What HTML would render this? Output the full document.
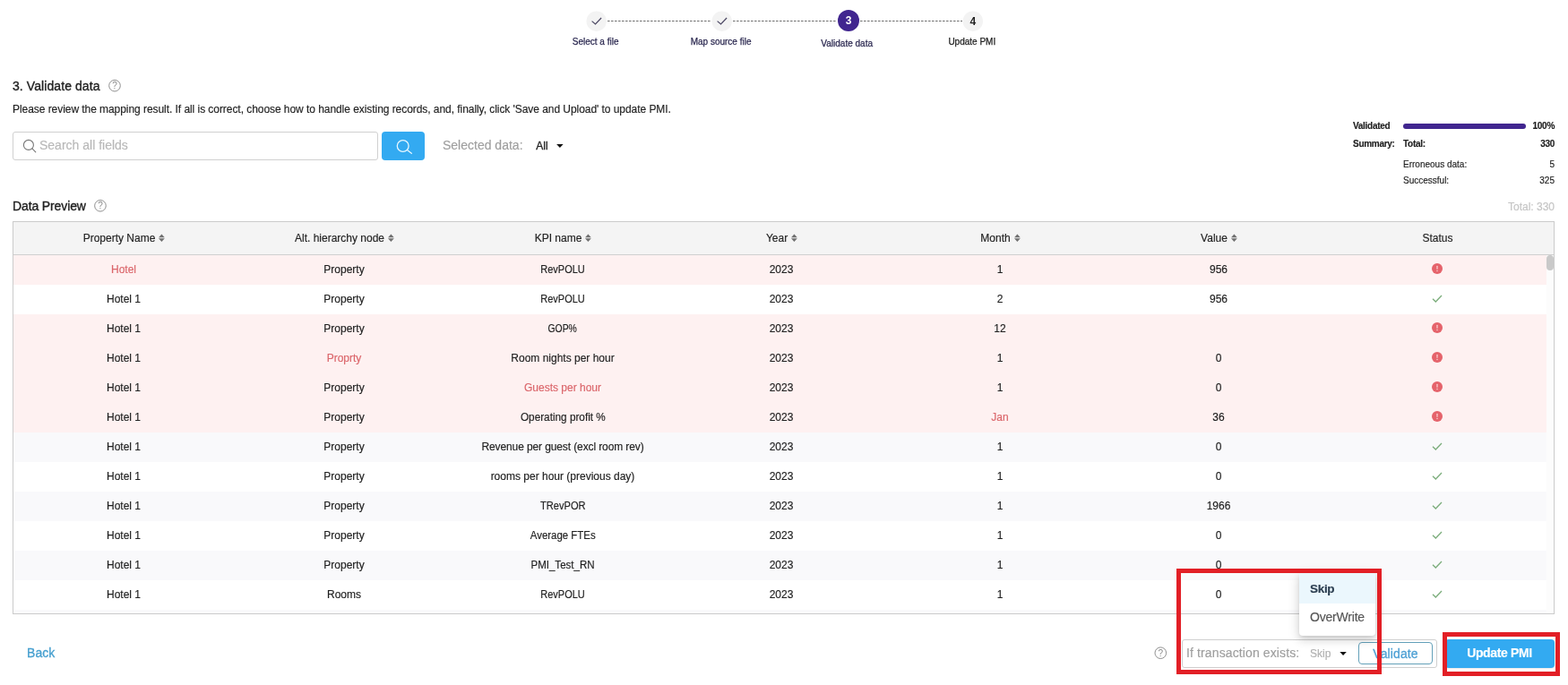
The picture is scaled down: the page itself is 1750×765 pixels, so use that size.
<!DOCTYPE html>
<html lang="en">
<head>
<meta charset="utf-8">
<title>Validate data</title>
<style>
*{box-sizing:border-box;margin:0;padding:0}
html,body{width:1750px;height:765px;overflow:hidden;background:#fff}
body{font-family:"Liberation Sans",sans-serif;color:#212121;position:relative;font-size:12px;-webkit-text-stroke-width:.15px}
.abs{position:absolute;white-space:nowrap}
/* stepper */
.step-l{position:absolute;font-size:10px;letter-spacing:0;color:#2b2850;-webkit-text-stroke:.25px #2b2850;white-space:nowrap;transform:translateX(-50%);line-height:12px}
/* table */
.tbl{position:absolute;left:14px;top:247px;width:1721px;height:439px;border:1px solid #cbcbcb;background:#fff;overflow:hidden}
.hd{position:absolute;left:0;top:0;width:1719px;height:37px;background:#f4f4f4;border-bottom:1px solid #cfcfcf}
.row{position:absolute;left:0;width:1711px;height:33px}
.row.err{background:#fef1f1}
.row.alt{background:#f9f9fb}
.c{position:absolute;top:0;height:33px;line-height:33px;width:244px;text-align:center;font-size:12px;color:#212121;white-space:nowrap}
.hd .c{height:36px;line-height:36px;padding-left:1px}
.red{color:#db666b}
.c1{left:1px}.c2{left:247px}.c3{left:491px}.c4{left:735px}.c5{left:979px}.c6{left:1223px}.c7{left:1467px}

.srt{vertical-align:middle;margin-left:3px;position:relative;top:-1px}
.st{vertical-align:middle;position:relative;top:-2px}
.sb{overflow:hidden;position:absolute;left:1711px;top:37px;width:8px;height:400px;background:#fcfcfc}
.sb i{position:absolute;left:0;top:0;width:8px;height:17px;border-radius:4px;background:#c9c9c9}
.sum{position:absolute;font-size:10px;line-height:12px;white-space:nowrap;color:#212121}
.sum.b{font-weight:bold;letter-spacing:-.28px}
.sum.r{right:15px;text-align:right}
.redbox{position:absolute;border:5px solid #e21f26}
.med{-webkit-text-stroke:.35px #212121}
.sx{display:inline-block;line-height:normal}
</style>
</head>
<body>
<!-- stepper -->
<svg class="abs" style="left:640px;top:0" width="470" height="40" viewBox="640 0 470 40">
<g stroke="#6f6f6f" stroke-width="1" stroke-dasharray="2.6 1.4" fill="none">
<path d="M678 23.5 H794"/><path d="M818 23.5 H934"/><path d="M960 23.5 H1074"/>
</g>
<circle cx="665.7" cy="23.7" r="11.2" fill="#f3f3f3"/>
<circle cx="805.7" cy="23.7" r="11.2" fill="#f3f3f3"/>
<circle cx="947" cy="23" r="12" fill="#41268f"/>
<circle cx="1085.8" cy="23.7" r="11.2" fill="#f3f3f3"/>
<path d="M660.6 23.6 L664.5 27 L671.1 20" fill="none" stroke="#4b4763" stroke-width="1.2"/>
<path d="M800.6 23.6 L804.5 27 L811.1 20" fill="none" stroke="#4b4763" stroke-width="1.2"/>
<text x="947" y="27.3" text-anchor="middle" font-family="Liberation Sans, sans-serif" font-weight="bold" font-size="12" fill="#fff">3</text>
<text x="1085.8" y="28" text-anchor="middle" font-family="Liberation Sans, sans-serif" font-weight="bold" font-size="12" fill="#212121">4</text>
</svg>
<div class="step-l" style="left:664.6px;top:41px">Select a file</div>
<div class="step-l" style="left:804.6px;top:41px">Map source file</div>
<div class="step-l" style="left:945.2px;top:43px">Validate data</div>
<div class="step-l" style="left:1084.8px;top:41px;color:#212121;-webkit-text-stroke-color:#212121">Update PMI</div>

<div class="abs med" style="left:14px;top:87px;font-size:14px;line-height:18px;letter-spacing:.08px">3. Validate data</div>
<div class="abs" style="left:14px;top:115px;font-size:12px;line-height:14px;letter-spacing:-.055px">Please review the mapping result. If all is correct, choose how to handle existing records, and, finally, click 'Save and Upload' to update PMI.</div>

<div class="abs" style="left:14px;top:147px;width:408px;height:32px;border:1px solid #d0d0d0;border-radius:3px"></div>
<div class="abs" style="left:44px;top:154px;font-size:14px;line-height:16px;color:#b8b8b8">Search all fields</div>
<div class="abs" style="left:426px;top:147px;width:48px;height:32px;background:#33aaf1;border-radius:4px"></div>
<div class="abs" style="left:494px;top:154px;font-size:14px;line-height:16px;color:#9e9e9e">Selected data<span>:</span></div>
<div class="abs" style="left:598.3px;top:156px;font-size:12px;line-height:14px;-webkit-text-stroke:.3px #212121">All</div>

<div class="abs med" style="left:14px;top:221px;font-size:14px;line-height:18px;letter-spacing:-.12px">Data Preview</div>
<div class="abs" style="right:15px;top:224px;font-size:12px;line-height:14px;color:#c4c4c4">Total: 330</div>

<div class="tbl">
<div class="hd">
<div class="c c1">Property Name<svg class="srt" width="8" height="12" viewBox="0 0 8 12"><path d="M4.4 1.5 L7.8 5.2 H1 Z M4.4 9.9 L7.8 6.2 H1 Z" fill="#707070"/></svg></div><div class="c c2">Alt. hierarchy node<svg class="srt" width="8" height="12" viewBox="0 0 8 12"><path d="M4.4 1.5 L7.8 5.2 H1 Z M4.4 9.9 L7.8 6.2 H1 Z" fill="#707070"/></svg></div><div class="c c3">KPI name<svg class="srt" width="8" height="12" viewBox="0 0 8 12"><path d="M4.4 1.5 L7.8 5.2 H1 Z M4.4 9.9 L7.8 6.2 H1 Z" fill="#707070"/></svg></div><div class="c c4">Year<svg class="srt" width="8" height="12" viewBox="0 0 8 12"><path d="M4.4 1.5 L7.8 5.2 H1 Z M4.4 9.9 L7.8 6.2 H1 Z" fill="#707070"/></svg></div><div class="c c5">Month<svg class="srt" width="8" height="12" viewBox="0 0 8 12"><path d="M4.4 1.5 L7.8 5.2 H1 Z M4.4 9.9 L7.8 6.2 H1 Z" fill="#707070"/></svg></div><div class="c c6">Value<svg class="srt" width="8" height="12" viewBox="0 0 8 12"><path d="M4.4 1.5 L7.8 5.2 H1 Z M4.4 9.9 L7.8 6.2 H1 Z" fill="#707070"/></svg></div><div class="c c7">Status</div>
</div>
<div class="row err" style="top:37px"><div class="c c1 red">Hotel</div><div class="c c2">Property</div><div class="c c3"><span class="sx" style="transform:scaleX(0.917)">RevPOLU</span></div><div class="c c4">2023</div><div class="c c5">1</div><div class="c c6">956</div><div class="c c7"><svg class="st" width="12" height="12" viewBox="0 0 12 12"><circle cx="6" cy="6" r="6" fill="#e5636b"/><rect x="5.4" y="2.8" width="1.2" height="4" rx=".4" fill="#fbd5d6"/><circle cx="6" cy="8.6" r=".75" fill="#fbd5d6"/></svg></div></div>
<div class="row" style="top:70px"><div class="c c1">Hotel 1</div><div class="c c2">Property</div><div class="c c3"><span class="sx" style="transform:scaleX(0.917)">RevPOLU</span></div><div class="c c4">2023</div><div class="c c5">2</div><div class="c c6">956</div><div class="c c7"><svg class="st" width="12" height="12" viewBox="0 0 12 12"><path d="M1 6.8 L4.3 10 L11 3" fill="none" stroke="#7bad7b" stroke-width="1.3"/></svg></div></div>
<div class="row err" style="top:103px"><div class="c c1">Hotel 1</div><div class="c c2">Property</div><div class="c c3"><span class="sx" style="transform:scaleX(0.865)">GOP%</span></div><div class="c c4">2023</div><div class="c c5">12</div><div class="c c6"></div><div class="c c7"><svg class="st" width="12" height="12" viewBox="0 0 12 12"><circle cx="6" cy="6" r="6" fill="#e5636b"/><rect x="5.4" y="2.8" width="1.2" height="4" rx=".4" fill="#fbd5d6"/><circle cx="6" cy="8.6" r=".75" fill="#fbd5d6"/></svg></div></div>
<div class="row err" style="top:136px"><div class="c c1">Hotel 1</div><div class="c c2 red">Proprty</div><div class="c c3">Room nights per hour</div><div class="c c4">2023</div><div class="c c5">1</div><div class="c c6">0</div><div class="c c7"><svg class="st" width="12" height="12" viewBox="0 0 12 12"><circle cx="6" cy="6" r="6" fill="#e5636b"/><rect x="5.4" y="2.8" width="1.2" height="4" rx=".4" fill="#fbd5d6"/><circle cx="6" cy="8.6" r=".75" fill="#fbd5d6"/></svg></div></div>
<div class="row err" style="top:169px"><div class="c c1">Hotel 1</div><div class="c c2">Property</div><div class="c c3 red">Guests per hour</div><div class="c c4">2023</div><div class="c c5">1</div><div class="c c6">0</div><div class="c c7"><svg class="st" width="12" height="12" viewBox="0 0 12 12"><circle cx="6" cy="6" r="6" fill="#e5636b"/><rect x="5.4" y="2.8" width="1.2" height="4" rx=".4" fill="#fbd5d6"/><circle cx="6" cy="8.6" r=".75" fill="#fbd5d6"/></svg></div></div>
<div class="row err" style="top:202px"><div class="c c1">Hotel 1</div><div class="c c2">Property</div><div class="c c3"><span class="sx" style="transform:scaleX(0.98)">Operating profit %</span></div><div class="c c4">2023</div><div class="c c5 red">Jan</div><div class="c c6">36</div><div class="c c7"><svg class="st" width="12" height="12" viewBox="0 0 12 12"><circle cx="6" cy="6" r="6" fill="#e5636b"/><rect x="5.4" y="2.8" width="1.2" height="4" rx=".4" fill="#fbd5d6"/><circle cx="6" cy="8.6" r=".75" fill="#fbd5d6"/></svg></div></div>
<div class="row alt" style="top:235px"><div class="c c1">Hotel 1</div><div class="c c2">Property</div><div class="c c3" style="letter-spacing:-.11px">Revenue per guest (excl room rev)</div><div class="c c4">2023</div><div class="c c5">1</div><div class="c c6">0</div><div class="c c7"><svg class="st" width="12" height="12" viewBox="0 0 12 12"><path d="M1 6.8 L4.3 10 L11 3" fill="none" stroke="#7bad7b" stroke-width="1.3"/></svg></div></div>
<div class="row" style="top:268px"><div class="c c1">Hotel 1</div><div class="c c2">Property</div><div class="c c3">rooms per hour (previous day)</div><div class="c c4">2023</div><div class="c c5">1</div><div class="c c6">0</div><div class="c c7"><svg class="st" width="12" height="12" viewBox="0 0 12 12"><path d="M1 6.8 L4.3 10 L11 3" fill="none" stroke="#7bad7b" stroke-width="1.3"/></svg></div></div>
<div class="row alt" style="top:301px"><div class="c c1">Hotel 1</div><div class="c c2">Property</div><div class="c c3"><span class="sx" style="transform:scaleX(0.925)">TRevPOR</span></div><div class="c c4">2023</div><div class="c c5">1</div><div class="c c6">1966</div><div class="c c7"><svg class="st" width="12" height="12" viewBox="0 0 12 12"><path d="M1 6.8 L4.3 10 L11 3" fill="none" stroke="#7bad7b" stroke-width="1.3"/></svg></div></div>
<div class="row" style="top:334px"><div class="c c1">Hotel 1</div><div class="c c2">Property</div><div class="c c3"><span class="sx" style="transform:scaleX(0.953)">Average FTEs</span></div><div class="c c4">2023</div><div class="c c5">1</div><div class="c c6">0</div><div class="c c7"><svg class="st" width="12" height="12" viewBox="0 0 12 12"><path d="M1 6.8 L4.3 10 L11 3" fill="none" stroke="#7bad7b" stroke-width="1.3"/></svg></div></div>
<div class="row alt" style="top:367px"><div class="c c1">Hotel 1</div><div class="c c2">Property</div><div class="c c3"><span class="sx" style="transform:scaleX(0.96)">PMI_Test_RN</span></div><div class="c c4">2023</div><div class="c c5">1</div><div class="c c6">0</div><div class="c c7"><svg class="st" width="12" height="12" viewBox="0 0 12 12"><path d="M1 6.8 L4.3 10 L11 3" fill="none" stroke="#7bad7b" stroke-width="1.3"/></svg></div></div>
<div class="row" style="top:400px"><div class="c c1">Hotel 1</div><div class="c c2">Rooms</div><div class="c c3"><span class="sx" style="transform:scaleX(0.917)">RevPOLU</span></div><div class="c c4">2023</div><div class="c c5">1</div><div class="c c6">0</div><div class="c c7"><svg class="st" width="12" height="12" viewBox="0 0 12 12"><path d="M1 6.8 L4.3 10 L11 3" fill="none" stroke="#7bad7b" stroke-width="1.3"/></svg></div></div>

<div class="row alt" style="top:433px"></div>
<div class="sb"><i></i></div>
</div>

<div class="abs" style="left:30px;top:721px;font-size:14px;line-height:16px;color:#459fcf;-webkit-text-stroke:.3px #459fcf;letter-spacing:.05px">Back</div>

<svg class="abs" style="left:119px;top:86px" width="18" height="18" viewBox="0 0 18 18"><circle cx="9.00" cy="9.70" r="6.3" fill="none" stroke="#8f8f8f" stroke-width="1"/><text x="9.00" y="13.20" font-family="Liberation Sans, sans-serif" font-size="10" text-anchor="middle" fill="#8c8c8c">?</text></svg>
<svg class="abs" style="left:102px;top:220px" width="18" height="18" viewBox="0 0 18 18"><circle cx="9.96" cy="9.80" r="6.3" fill="none" stroke="#8f8f8f" stroke-width="1"/><text x="9.96" y="13.30" font-family="Liberation Sans, sans-serif" font-size="10" text-anchor="middle" fill="#8c8c8c">?</text></svg>
<svg class="abs" style="left:1286px;top:720px" width="18" height="18" viewBox="0 0 18 18"><circle cx="9.30" cy="9.20" r="6.3" fill="none" stroke="#8f8f8f" stroke-width="1"/><text x="9.30" y="12.70" font-family="Liberation Sans, sans-serif" font-size="10" text-anchor="middle" fill="#8c8c8c">?</text></svg>
<!-- search icons -->
<svg class="abs" style="left:22px;top:152px" width="20" height="20" viewBox="22 152 20 20"><circle cx="31.9" cy="161.9" r="5.5" fill="none" stroke="#777" stroke-width="1.1"/><path d="M35.9 165.9 L39.8 169.8" stroke="#777" stroke-width="1.1" stroke-linecap="round"/></svg>
<svg class="abs" style="left:438px;top:152px" width="24" height="22" viewBox="438 152 24 22"><circle cx="449.7" cy="163" r="6.4" fill="none" stroke="#e8f7ff" stroke-width="1.3"/><path d="M454.4 167.6 L459.3 171.3" stroke="#e8f7ff" stroke-width="1.3" stroke-linecap="round"/></svg>
<svg class="abs" style="left:620px;top:158px" width="10" height="10" viewBox="620 158 10 10"><path d="M621.1 161 h7.5 l-3.75 4.1 Z" fill="#111"/></svg>

<!-- summary -->
<div class="sum b" style="left:1510px;top:135px">Validated</div>
<div class="abs" style="left:1566px;top:138px;width:137px;height:6px;border-radius:3px;background:#41268f"></div>
<div class="sum b r" style="top:135px">100%</div>
<div class="sum b" style="left:1510px;top:155px">Summary:</div>
<div class="sum b" style="left:1566px;top:155px">Total:</div>
<div class="sum b r" style="top:155px">330</div>
<div class="sum" style="left:1566px;top:178px">Erroneous data<span>:</span></div>
<div class="sum r" style="top:178px">5</div>
<div class="sum" style="left:1566px;top:196px">Successful:</div>
<div class="sum r" style="top:196px">325</div>

<!-- footer -->
<div class="abs" style="left:1319px;top:714px;width:285px;height:32px;border:1px solid #cfcfcf;border-radius:3px;background:#fff"></div>
<div class="abs" style="left:1324px;top:721px;font-size:14px;line-height:16px;color:#9e9e9e;letter-spacing:.12px">If transaction exists:</div>
<div class="abs" style="left:1462px;top:723px;font-size:12px;line-height:14px;color:#b0b0b0">Skip</div>
<svg class="abs" style="left:1494px;top:725px" width="10" height="10" viewBox="1494 725 10 10"><path d="M1495.3 727.9 h7.5 l-3.75 4.1 Z" fill="#111"/></svg>
<div class="abs" style="left:1516px;top:717px;width:83px;height:25px;border:1px solid #63a0b9;border-radius:4px;color:#4fa1d5;-webkit-text-stroke:.3px #4fa1d5;font-size:14px;line-height:25px;text-align:center;letter-spacing:.1px">Validate</div>
<div class="abs" style="left:1613px;top:714px;width:122px;height:32px;border-radius:4px;background:#33aaf1;color:#fff;font-weight:bold;font-size:14px;line-height:31px;text-align:center;letter-spacing:-.36px;padding-right:1px;box-shadow:0 1px 1px rgba(0,0,0,.08)">Update PMI</div>

<!-- dropdown popup -->
<div class="abs" style="left:1450px;top:640px;width:85px;height:70px;background:#fff;border-radius:4px;box-shadow:0 2px 4px -1px rgba(0,0,0,.12),0 5px 10px 1px rgba(0,0,0,.09),0 2px 14px 2px rgba(0,0,0,.08)">
<div style="height:34px;line-height:35px;padding-left:12px;background:#ebf7fd;font-weight:bold;font-size:13.5px;letter-spacing:-.3px;color:#2c3e50;border-radius:3px 3px 0 0">Skip</div>
<div style="height:31px;line-height:30px;padding-left:12px;font-size:14px;color:#555;letter-spacing:-.2px">OverWrite</div>
</div>

<!-- annotation boxes -->
<div class="redbox" style="left:1313px;top:635px;width:229px;height:118px"></div>
<div class="redbox" style="left:1610px;top:706px;width:131px;height:49px"></div>
</body>
</html>
